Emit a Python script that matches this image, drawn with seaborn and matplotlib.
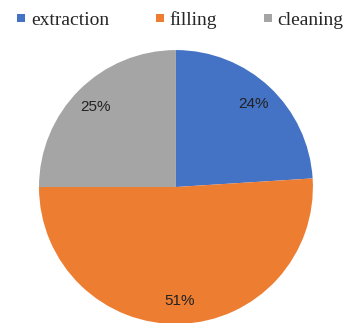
import matplotlib
matplotlib.use("Agg")
import matplotlib.pyplot as plt
from matplotlib.lines import Line2D
import seaborn as sns

categories = ["extraction", "filling", "cleaning"]
values = [24, 51, 25]
colors = ["#4472C4", "#ED7D31", "#A5A5A5"]

sns.set_style("white")
plt.rcParams['font.family'] = ['DejaVu Sans']

fig = plt.figure(figsize=(3.45, 3.23), dpi=100)
ax = fig.add_axes([0.113, -0.003, 0.794, 0.848])
wedges, texts, autotexts = ax.pie(
    values, colors=colors, startangle=90, counterclock=False,
    autopct=lambda p: f"{p:.0f}%", pctdistance=0.83, radius=1.0,
    wedgeprops=dict(linewidth=0),
    textprops=dict(fontsize=11, color="#222222", family="Liberation Sans"))
ax.set_xlim(-1, 1)
ax.set_ylim(-1, 1)
ax.set_aspect("equal")

handles = [Line2D([], [], linestyle="none", marker="s", markersize=5.5,
                  markerfacecolor=w.get_facecolor(), markeredgewidth=0) for w in wedges]
leg = fig.legend(handles, categories, loc="upper center", bbox_to_anchor=(0.523, 1.02),
                 ncol=3, frameon=False, handlelength=0.4,
                 handletextpad=0.3, columnspacing=2.4,
                 prop=dict(family="Liberation Serif", size=14))
fig.savefig("out.png", dpi=100)
